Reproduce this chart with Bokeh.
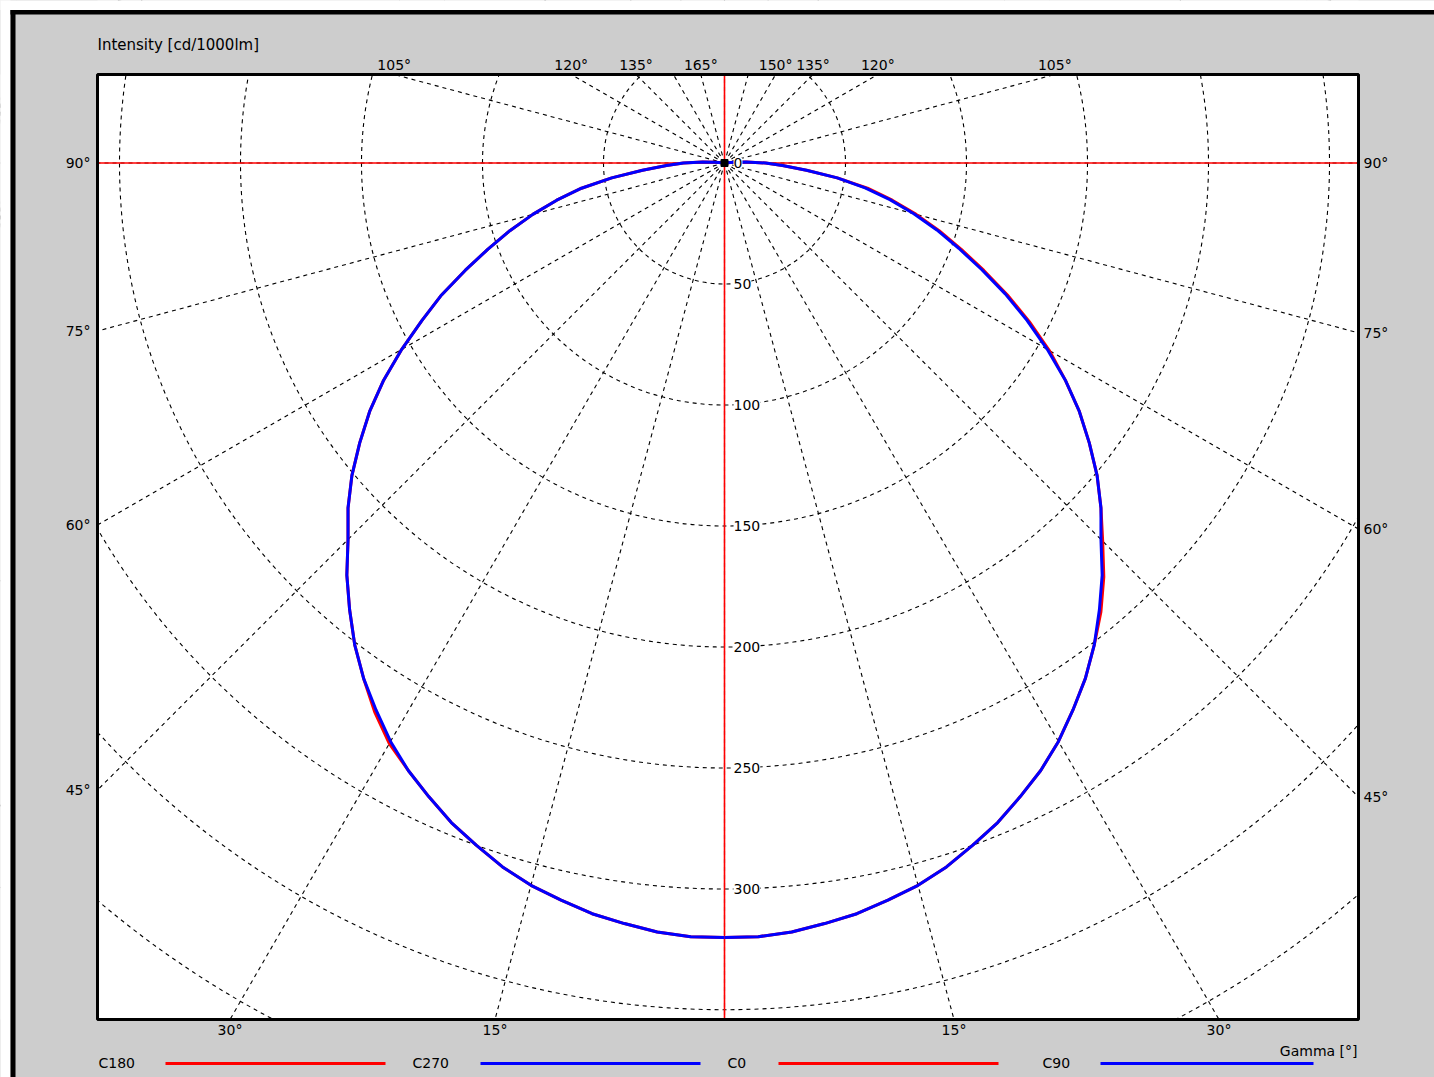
import numpy as np
from bokeh.plotting import figure
from bokeh.core.properties import value
from bokeh.embed import file_html
from bokeh.resources import INLINE

# ---------------- data ----------------
gamma = [0, 2.5, 5, 7.5, 10, 12.5, 15, 17.5, 20, 22.5, 25, 27.5, 30, 32.5, 35, 37.5,
         40, 42.5, 45, 47.5, 50, 52.5, 55, 57.5, 60, 62.5, 65, 67.5, 70, 72.5, 75,
         77.5, 80, 82.5, 85, 87.5, 90, 92.5, 95, 97.5, 100]
c180 = [320, 320, 319, 317, 315, 312, 309, 305, 300, 295, 289, 283, 277, 269, 260, 251,
        241, 231, 220, 211, 201, 190, 179, 167, 154, 141, 129, 116, 104, 93, 82,
        71, 60, 47, 34, 24, 17, 9, 4, 1, 0]
c270 = [320, 320, 319, 317, 315, 312, 309, 305, 300, 295, 289, 283, 276, 268, 260, 251,
        241, 231, 220, 211, 201, 190, 179, 167, 154, 141, 129, 116, 104, 93, 82,
        71, 60, 47, 34, 24, 17, 9, 4, 1, 0]
c0 = [320, 320, 319, 317, 315, 312, 309, 305, 300, 295, 289, 283, 276, 268, 260, 251,
      242, 232, 221, 211, 201, 190, 179, 167, 155, 142, 129, 116, 104, 93, 82,
      71, 60, 47, 34, 24, 17, 9, 4, 1, 0]
c90 = [320, 320, 319, 317, 315, 312, 309, 305, 300, 295, 289, 283, 276, 268, 260, 251,
       241, 231, 220, 211, 201, 190, 179, 167, 154, 141, 128, 115, 103, 92, 81,
       70, 59, 47, 34, 24, 17, 9, 4, 1, 0]

series_names = ["C180", "C270", "C0", "C90"]
series_values = [c180, c270, c0, c90]
series_colors = ["#ff0000", "#0000ff", "#ff0000", "#0000ff"]
series_side = [-1, -1, 1, 1]

ring_values = [50, 100, 150, 200, 250, 300, 350, 400, 450]
ring_label_values = [0, 50, 100, 150, 200, 250, 300]
ray_angles = list(range(0, 360, 15))
left_angle_labels = [15, 30, 45, 60, 75, 90, 105, 120, 135, 165]
right_angle_labels = [15, 30, 45, 60, 75, 90, 105, 120, 135, 150]
title_text = "Intensity [cd/1000lm]"
gamma_text = "Gamma [°]"

# ---------------- layout (page pixels) ----------------
CX, CY = 724.0, 162.5
S = 2.42
W, H = 1434, 1077
PAGE_L, PAGE_T, PAGE_R, PAGE_B = 0, 0, 1434, 1077
EXT_L, EXT_T, EXT_R, EXT_B = -60, -60, 1494, 1137
FR_L, FR_R, FR_T, FR_B = 97, 1358, 74, 1019


def dx(px):
    return (px - CX) / S


def dy(py):
    return (CY - py) / S


FONT = value("DejaVu Sans")

p = figure(width=W, height=H,
           x_range=(dx(PAGE_L), dx(PAGE_R)), y_range=(dy(PAGE_B), dy(PAGE_T)),
           output_backend="svg", toolbar_location=None,
           x_axis_type=None, y_axis_type=None, min_border=0)
p.grid.visible = False
p.outline_line_color = None
p.background_fill_color = "white"
p.border_fill_color = "white"

# grid circles
p.circle(x=[0] * len(ring_values), y=[0] * len(ring_values), radius=ring_values,
         fill_color=None, line_color="black", line_width=1.1, line_dash="4 4")
# radial lines
p.ray(x=[0] * len(ray_angles), y=[0] * len(ray_angles), length=0,
      angle=[np.radians(a) for a in ray_angles],
      line_color="black", line_width=1.1, line_dash="4 4")

# red axes
p.segment(x0=[dx(FR_L), 0], y0=[0, dy(FR_T)], x1=[dx(FR_R), 0], y1=[0, dy(FR_B)],
          line_color="#ff0000", line_width=1.6)

# curves
for name, vals, col, side in zip(series_names, series_values, series_colors, series_side):
    g = np.radians(np.array(gamma, dtype=float))
    v = np.array(vals, dtype=float)
    p.line(x=side * v * np.sin(g), y=-v * np.cos(g), line_color=col, line_width=3,
           line_join="round")

p.scatter(x=[0], y=[0], marker="square", size=7, color="black")

# mask outside the plotting frame
GRAY = "#cdcdcd"
p.quad(left=[dx(EXT_L), dx(EXT_L), dx(EXT_L), dx(FR_R)],
       right=[dx(EXT_R), dx(EXT_R), dx(FR_L), dx(EXT_R)],
       top=[dy(EXT_T), dy(FR_B), dy(EXT_T), dy(EXT_T)],
       bottom=[dy(FR_T), dy(EXT_B), dy(EXT_B), dy(EXT_B)],
       fill_color=GRAY, line_color=None)
# white page strip and black outer border
p.quad(left=[dx(EXT_L), dx(EXT_L)], right=[dx(10), dx(EXT_R)],
       top=[dy(EXT_T), dy(EXT_T)], bottom=[dy(EXT_B), dy(9.5)],
       fill_color="white", line_color=None)
p.quad(left=[dx(10), dx(10)], right=[dx(15), dx(EXT_R)],
       top=[dy(9.5), dy(9.5)], bottom=[dy(EXT_B), dy(14)],
       fill_color="black", line_color=None)
# frame
p.quad(left=[dx(FR_L)], right=[dx(FR_R)], top=[dy(FR_T)], bottom=[dy(FR_B)],
       fill_color=None, line_color="black", line_width=3)

# ring labels
p.text(x=[0] * len(ring_label_values), y=[-v for v in ring_label_values],
       text=[str(v) for v in ring_label_values], x_offset=9,
       text_align="left", text_baseline="middle", text_font=FONT,
       text_font_size="14px", text_color="black",
       background_fill_color="white")

# angle labels at the frame
L, R, T, B = dx(FR_L), dx(FR_R), dy(FR_T), dy(FR_B)
lab = {"top": ([], [], []), "bottom": ([], [], []), "left": ([], [], []), "right": ([], [], [])}
for side, angles in ((-1, left_angle_labels), (1, right_angle_labels)):
    for a in angles:
        r = np.radians(a)
        ux, uy = side * np.sin(r), -np.cos(r)
        tx = (L / ux) if side < 0 else (R / ux)
        if uy > 1e-9:
            ty = T / uy
        elif uy < -1e-9:
            ty = B / uy
        else:
            ty = np.inf
        t = min(tx, ty)
        if tx <= ty:
            key = "left" if side < 0 else "right"
        else:
            key = "top" if uy > 0 else "bottom"
        lab[key][0].append(ux * t)
        lab[key][1].append(uy * t)
        lab[key][2].append(f"{a}°")

common = dict(text_font=FONT, text_font_size="14px", text_color="black")
p.text(x=lab["top"][0], y=lab["top"][1], text=lab["top"][2], text_align="center",
       text_baseline="middle", y_offset=-10, **common)
p.text(x=lab["bottom"][0], y=lab["bottom"][1], text=lab["bottom"][2], text_align="center",
       text_baseline="middle", y_offset=10, **common)
p.text(x=lab["left"][0], y=lab["left"][1], text=lab["left"][2], text_align="right",
       text_baseline="middle", x_offset=-7, **common)
p.text(x=lab["right"][0], y=lab["right"][1], text=lab["right"][2], text_align="left",
       text_baseline="middle", x_offset=5, **common)

# titles
p.text(x=[dx(97)], y=[dy(44)], text=[title_text], text_align="left",
       text_baseline="middle", text_font=FONT, text_font_size="15px", text_color="black")
p.text(x=[dx(1357)], y=[dy(1050)], text=[gamma_text], text_align="right",
       text_baseline="middle", **common)

# legend (label followed by a line sample)
leg_text_x = [98, 412, 727, 1042]
leg_line_x0 = [165, 480, 778, 1100]
leg_line_x1 = [385, 700, 998, 1313]
p.text(x=[dx(v) for v in leg_text_x], y=[dy(1062)] * 4, text=series_names,
       text_align="left", text_baseline="middle", **common)
p.segment(x0=[dx(v) for v in leg_line_x0], x1=[dx(v) for v in leg_line_x1],
          y0=[dy(1063)] * 4, y1=[dy(1063)] * 4, line_color=series_colors, line_width=3)

open("out.html", "w").write(file_html(p, INLINE))
